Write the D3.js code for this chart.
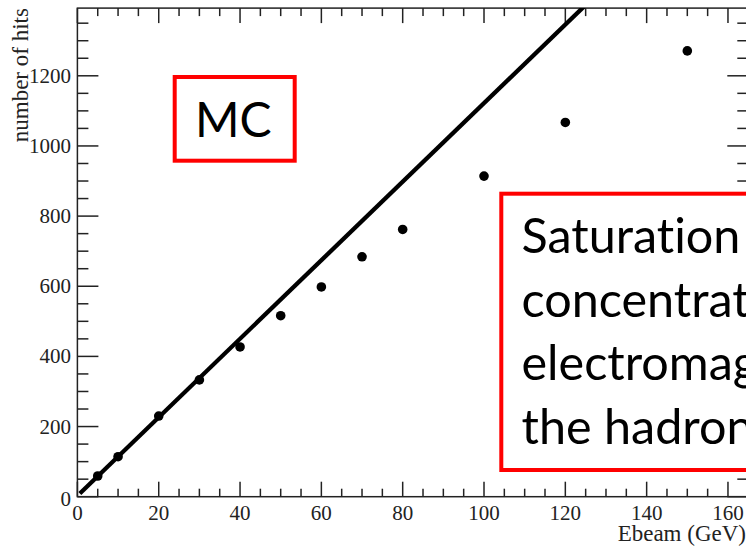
<!DOCTYPE html>
<html>
<head>
<meta charset="utf-8">
<script src="https://cdn.jsdelivr.net/npm/d3@7"></script>
<style>
  html, body { margin: 0; padding: 0; background: #fff; overflow: hidden; }
  svg { display: block; }
  text { font-variant-ligatures: none; }
</style>
</head>
<body>
<svg id="chart" width="746" height="547"></svg>
<script>
// beam energies (GeV) and simulated number of hits
var energies = [5, 10, 20, 30, 40, 50, 60, 70, 80, 100, 120, 150];
var hits = [59, 114, 230, 333, 427, 516, 598, 684, 762, 914, 1067, 1271];

// straight line drawn over the low energy points (end points)
var fitX = [0.6, 130];
var fitY = [9, 1458];

var xMajor = [0, 20, 40, 60, 80, 100, 120, 140, 160];
var yMajor = [0, 200, 400, 600, 800, 1000, 1200];

var X_MAX = 165, Y_MAX = 1393;

var noteLines = ["Saturation due to", "concentration of", "electromagnetic part in", "the hadronic showers"];

var SERIF = "'Liberation Serif', 'Times New Roman', serif";
var SANS = "Lato, 'Open Sans', sans-serif";

var svg = d3.select("#chart");

// frame in pixels
var frameL = 77.4, frameR = 748.3, frameT = 8.1, frameB = 496.7;

var x = d3.scaleLinear().domain([0, X_MAX]).range([frameL, frameR]);
var y = d3.scaleLinear().domain([0, Y_MAX]).range([frameB, frameT]);

svg.append("defs").append("clipPath").attr("id", "frame-clip")
    .append("rect")
    .attr("x", frameL).attr("y", frameT)
    .attr("width", frameR - frameL).attr("height", frameB - frameT);

// frame
svg.append("rect")
    .attr("x", frameL).attr("y", frameT)
    .attr("width", frameR - frameL).attr("height", frameB - frameT)
    .attr("fill", "none").attr("stroke", "#222").attr("stroke-width", 1.5);

// ticks, every 5 GeV and 50 hits, bigger at labelled ones
var xTicks = d3.range(0, X_MAX + 0.001, 5);
var yTicks = d3.range(0, Y_MAX, 50);

var tickG = svg.append("g").attr("stroke", "#222").attr("stroke-width", 1.5);

xTicks.forEach(function(v){
    var len = (v % 20 == 0) ? 15 : 8;
    tickG.append("line").attr("x1", x(v)).attr("x2", x(v))
        .attr("y1", frameB).attr("y2", frameB - len);
    tickG.append("line").attr("x1", x(v)).attr("x2", x(v))
        .attr("y1", frameT).attr("y2", frameT + len);
});

yTicks.forEach(function(v){
    var len = (v % 200 == 0) ? 21 : 11;
    tickG.append("line").attr("y1", y(v)).attr("y2", y(v))
        .attr("x1", frameL).attr("x2", frameL + len);
    tickG.append("line").attr("y1", y(v)).attr("y2", y(v))
        .attr("x1", frameR).attr("x2", frameR - len);
});

// tick labels
svg.selectAll(".xlab").data(xMajor).enter().append("text")
    .attr("font-family", SERIF).attr("font-size", 21).attr("fill", "#222")
    .attr("x", function(d){ return x(d); })
    .attr("y", 520)
    .attr("text-anchor", "middle")
    .text(function(d){ return d; });

svg.selectAll(".ylab").data(yMajor).enter().append("text")
    .attr("font-family", SERIF).attr("font-size", 21).attr("fill", "#222")
    .attr("x", 71)
    .attr("y", function(d){ return y(d) + (d == 0 ? 9 : 7); })
    .attr("text-anchor", "end")
    .text(function(d){ return d; });

// axis titles
svg.append("text")
    .attr("font-family", SERIF).attr("font-size", 23).attr("fill", "#222")
    .attr("x", 746).attr("y", 541)
    .attr("text-anchor", "end")
    .text("Ebeam (GeV)");

svg.append("text")
    .attr("font-family", SERIF).attr("font-size", 23).attr("fill", "#222")
    .attr("transform", "translate(28," + frameT + ") rotate(-90)")
    .attr("text-anchor", "end")
    .text("number of hits");

// line
var line = d3.line()
    .x(function(d){ return x(d[0]); })
    .y(function(d){ return y(d[1]); });

svg.append("path")
    .datum(d3.zip(fitX, fitY))
    .attr("clip-path", "url(#frame-clip)")
    .attr("d", line)
    .attr("fill", "none").attr("stroke", "#000").attr("stroke-width", 4.3);

// points
svg.selectAll(".pt").data(d3.zip(energies, hits)).enter().append("circle")
    .attr("cx", function(d){ return x(d[0]); })
    .attr("cy", function(d){ return y(d[1]); })
    .attr("r", 4.8)
    .attr("fill", "#000");

// annotation boxes
svg.append("rect")
    .attr("x", 174.7).attr("y", 77).attr("width", 120).attr("height", 83.7)
    .attr("fill", "#fff").attr("stroke", "#ff0000").attr("stroke-width", 4);
svg.append("text")
    .attr("font-family", SANS).attr("font-size", 48).attr("fill", "#000")
    .attr("x", 195).attr("y", 136.7)
    .text("MC");

svg.append("rect")
    .attr("x", 501.3).attr("y", 193.7).attr("width", 400).attr("height", 276.3)
    .attr("fill", "#fff").attr("stroke", "#ff0000").attr("stroke-width", 4);
svg.selectAll(".note-line").data(noteLines).enter().append("text")
    .attr("font-family", SANS).attr("font-size", 48.5).attr("fill", "#000")
    .attr("x", 521.5)
    .attr("y", function(d, i){ return 253.3 + i * 63.4; })
    .text(function(d){ return d; });
</script>
</body>
</html>
